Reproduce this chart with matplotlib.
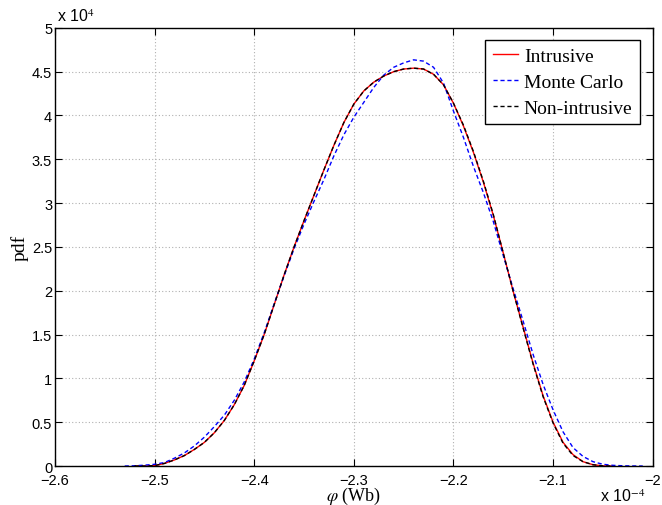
import matplotlib.pyplot as plt
from matplotlib.ticker import FuncFormatter

# flux values in units of 1e-4 Wb, pdf values in units of 1e4
x_intr = [-2.52, -2.51, -2.50, -2.49, -2.48, -2.47, -2.46, -2.45, -2.44, -2.43,
          -2.42, -2.41, -2.40, -2.39, -2.38, -2.37, -2.36, -2.35, -2.34, -2.33,
          -2.32, -2.31, -2.30, -2.29, -2.28, -2.27, -2.26, -2.25, -2.24, -2.23,
          -2.22, -2.21, -2.20, -2.19, -2.18, -2.17, -2.16, -2.15, -2.14, -2.13,
          -2.12, -2.11, -2.10, -2.09, -2.08, -2.07, -2.06, -2.05, -2.04]
pdf_intr = [0, 0, 0.005, 0.03, 0.07, 0.12, 0.19, 0.27, 0.38, 0.52,
            0.70, 0.92, 1.20, 1.50, 1.84, 2.18, 2.50, 2.80, 3.09, 3.38,
            3.66, 3.92, 4.13, 4.28, 4.38, 4.45, 4.50, 4.53, 4.54, 4.53,
            4.47, 4.35, 4.14, 3.88, 3.58, 3.24, 2.86, 2.43, 1.99, 1.58,
            1.17, 0.80, 0.50, 0.27, 0.13, 0.05, 0.015, 0.002, 0]

x_mc = [-2.53, -2.52, -2.51, -2.50, -2.49, -2.48, -2.47, -2.46, -2.45, -2.44,
        -2.43, -2.42, -2.41, -2.40, -2.39, -2.38, -2.37, -2.36, -2.35, -2.34,
        -2.33, -2.32, -2.31, -2.30, -2.29, -2.28, -2.27, -2.26, -2.25, -2.24,
        -2.23, -2.22, -2.21, -2.20, -2.19, -2.18, -2.17, -2.16, -2.15, -2.14,
        -2.13, -2.12, -2.11, -2.10, -2.09, -2.08, -2.07, -2.06, -2.05, -2.04,
        -2.03, -2.02, -2.01]
pdf_mc = [0, 0.003, 0.01, 0.02, 0.04, 0.09, 0.15, 0.23, 0.33, 0.45,
          0.58, 0.75, 0.96, 1.22, 1.52, 1.85, 2.17, 2.48, 2.76, 3.02,
          3.27, 3.54, 3.78, 3.98, 4.15, 4.32, 4.46, 4.55, 4.60, 4.635,
          4.62, 4.55, 4.37, 4.05, 3.75, 3.42, 3.12, 2.79, 2.40, 2.02,
          1.65, 1.27, 0.93, 0.64, 0.39, 0.21, 0.11, 0.05, 0.02, 0.008,
          0.003, 0.001, 0]

x_nonintr = x_intr
pdf_nonintr = [0, 0, 0.005, 0.03, 0.07, 0.12, 0.19, 0.27, 0.38, 0.52,
               0.70, 0.92, 1.20, 1.50, 1.84, 2.18, 2.50, 2.80, 3.09, 3.38,
               3.66, 3.92, 4.13, 4.28, 4.38, 4.45, 4.50, 4.53, 4.54, 4.53,
               4.47, 4.35, 4.14, 3.89, 3.59, 3.25, 2.87, 2.43, 1.99, 1.57,
               1.16, 0.79, 0.49, 0.26, 0.12, 0.05, 0.015, 0.002, 0]

xticks = [-2.6, -2.5, -2.4, -2.3, -2.2, -2.1, -2.0]
yticks = [0, 0.5, 1, 1.5, 2, 2.5, 3, 3.5, 4, 4.5, 5]

plt.rcParams['font.family'] = ['Liberation Sans', 'DejaVu Sans']
plt.rcParams['mathtext.fontset'] = 'stix'
serif = ['Liberation Serif', 'DejaVu Serif']

fig = plt.figure(figsize=(6.62, 5.06), dpi=100)
ax = fig.add_axes([0.083, 0.077, 0.903, 0.866])

ax.plot(x_intr, pdf_intr, color='red', lw=1.0, label='Intrusive')
ax.plot(x_mc, pdf_mc, color='blue', lw=1.0, ls=(0, (3, 2)), label='Monte Carlo')
ax.plot(x_nonintr, pdf_nonintr, color='black', lw=1.0, ls=(0, (3, 2)), label='Non-intrusive')

ax.set_xlim(-2.6, -2.0)
ax.set_ylim(0, 5)
ax.set_xticks(xticks)
ax.set_yticks(yticks)
fmt = FuncFormatter(lambda v, p: ('%g' % round(v, 3)).replace('-', '\u2212'))
ax.xaxis.set_major_formatter(fmt)
ax.yaxis.set_major_formatter(fmt)
ax.tick_params(direction='in', top=True, right=True, labelsize=10.5, length=5, width=0.8)
ax.tick_params(axis='x', pad=5)
ax.tick_params(axis='y', pad=2)
ax.grid(True, color='#b0b0b0', ls=(0, (1, 2)), lw=0.8)
for s in ax.spines.values():
    s.set_linewidth(1.0)

ax.text(0.003, 1.008, r'x 10$^{4}$', transform=ax.transAxes, fontsize=11.5, va='bottom', ha='left')
ax.text(0.988, -0.08, r'x 10$^{-4}$', transform=ax.transAxes, fontsize=11.5, va='baseline', ha='right')

ax.set_xlabel(r'$\varphi$ (Wb)', family=serif, fontsize=13)
ax.xaxis.set_label_coords(0.5, -0.044)
ax.xaxis.label.set_va('top')
ax.set_ylabel('pdf', family=serif, fontsize=14, labelpad=2)

leg = ax.legend(loc='upper right', bbox_to_anchor=(0.979, 0.973), fancybox=False,
                edgecolor='black', framealpha=1, prop={'family': serif, 'size': 14},
                handlelength=1.3, borderpad=0.4, labelspacing=0.42, handletextpad=0.3,
                borderaxespad=0)
leg.get_frame().set_linewidth(1.0)

fig.savefig('out.png', dpi=100)
